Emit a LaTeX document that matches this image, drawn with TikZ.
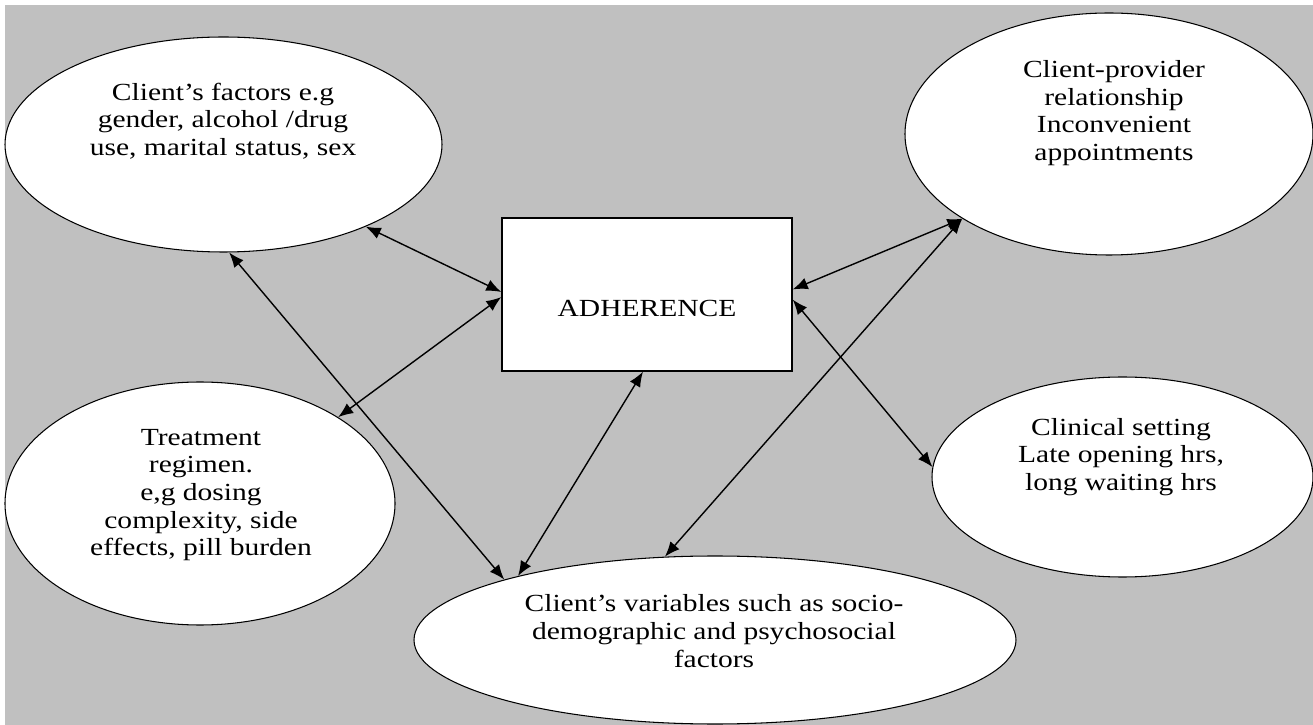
\documentclass[tikz,border=0pt]{standalone}
\usepackage{fontspec}
\setmainfont{Liberation Serif}
\usetikzlibrary{shapes.geometric,arrows.meta}
\definecolor{bg_grey}{RGB}{192,192,192}

\begin{document}
\begin{tikzpicture}[
	bubble/.style={ellipse,draw=black,semithick,fill=white,inner sep=0pt},
	txt/.style={align=center,font=\fontsize{14}{15.7}\selectfont,xscale=1.2,transform shape},
	link/.style={{Latex[length=3mm,width=2.4mm]}-{Latex[length=3mm,width=2.4mm]},thick,black}]
	\useasboundingbox (0,0) rectangle (26.26,-14.5);
	\fill[bg_grey] (0.1,-0.1) rectangle (26.26,-14.5);

	\node[bubble,minimum width=8.74cm,minimum height=4.3cm] (cf) at (4.47,-2.89) {};
	\node[bubble,minimum width=8.16cm,minimum height=4.84cm] (cp) at (22.18,-2.68) {};
	\node[bubble,minimum width=7.8cm,minimum height=4.86cm] (tr) at (4.0,-10.07) {};
	\node[bubble,minimum width=7.62cm,minimum height=4.0cm] (cs) at (22.45,-9.54) {};
	\node[bubble,minimum width=12.04cm,minimum height=3.36cm] (cv) at (14.3,-12.8) {};
	\node[draw=black,thick,fill=white,minimum width=5.8cm,minimum height=3.06cm,inner sep=0pt] (adh) at (12.94,-5.89) {};

	\node[txt] (cf-txt) at (4.46,-2.42) {Client's factors e.g\\gender, alcohol /drug\\use, marital status, sex};
	\node[txt] (cp-txt) at (22.28,-2.26) {Client-provider\\relationship\\Inconvenient\\appointments};
	\node[txt] (tr-txt) at (4.02,-9.9) {Treatment\\regimen.\\e,g dosing\\complexity, side\\effects, pill burden};
	\node[txt] (cs-txt) at (22.42,-9.14) {Clinical setting\\Late opening hrs,\\long waiting hrs};
	\node[txt] (cv-txt) at (14.28,-12.62) {Client's variables such as socio-\\demographic and psychosocial\\factors};
	\node[txt] (adh-txt) at (12.94,-6.16) {ADHERENCE};

	\foreach \a/\b in {cf.-30/adh.179,tr.32/adh.181,cf.-87/cv.164,adh.-93/cv.162,cp.210/adh.2,cp.210/cv.121,adh.-2/cs.177}
		\draw[link] (\a) -- (\b);
\end{tikzpicture}
\end{document}
